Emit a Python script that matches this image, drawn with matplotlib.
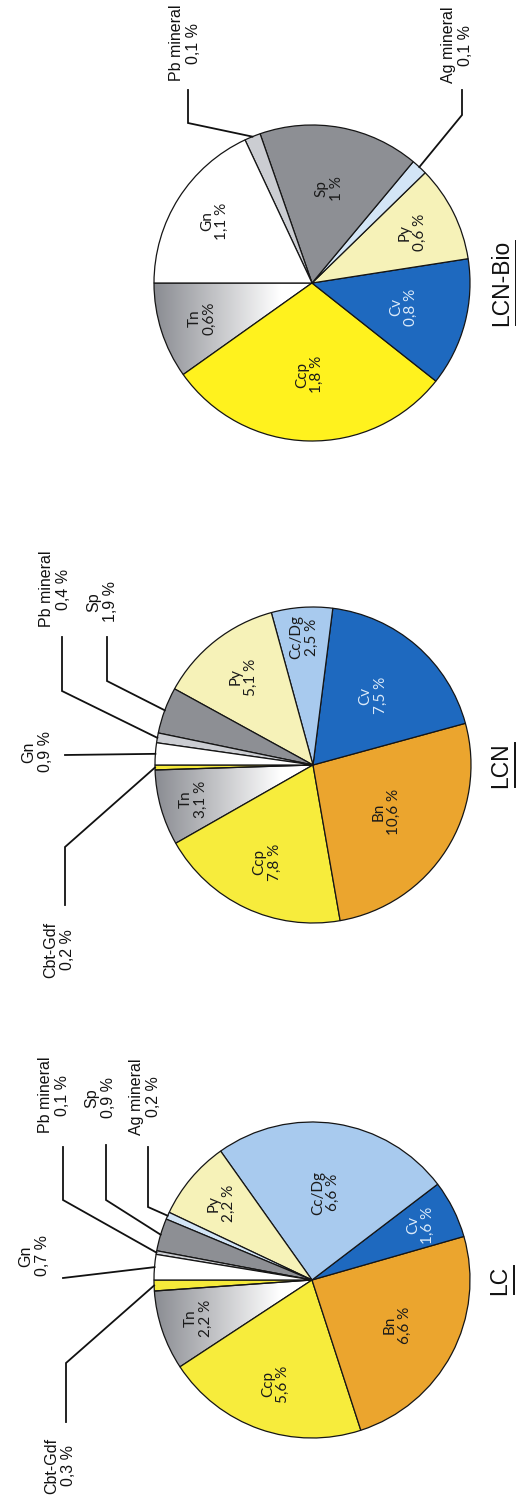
import numpy as np
import matplotlib
matplotlib.use("Agg")
import matplotlib.pyplot as plt
from matplotlib.colors import LinearSegmentedColormap

W, H = 516, 1497
R = 158

# --- data (wedges go counter-clockwise from 9 o'clock) ---
lc_minerals = ["Cbt-Gdf", "Tn", "Ccp", "Bn", "Cv", "Cc/Dg", "Py", "Ag mineral", "Sp", "Pb mineral", "Gn"]
lc_values = [0.3, 2.2, 5.6, 6.6, 1.6, 6.6, 2.2, 0.2, 0.9, 0.1, 0.7]
lc_labels = ["0,3 %", "2,2 %", "5,6 %", "6,6 %", "1,6 %", "6,6 %", "2,2 %", "0,2 %", "0,9 %", "0,1 %", "0,7 %"]

lcn_minerals = ["Cbt-Gdf", "Tn", "Ccp", "Bn", "Cv", "Cc/Dg", "Py", "Sp", "Pb mineral", "Gn"]
lcn_values = [0.2, 3.1, 7.8, 10.6, 7.5, 2.5, 5.1, 1.9, 0.4, 0.9]
lcn_labels = ["0,2 %", "3,1 %", "7,8 %", "10,6 %", "7,5 %", "2,5 %", "5,1 %", "1,9 %", "0,4 %", "0,9 %"]

bio_minerals = ["Tn", "Ccp", "Cv", "Py", "Ag mineral", "Sp", "Pb mineral", "Gn"]
bio_values = [0.6, 1.8, 0.8, 0.6, 0.1, 1.0, 0.1, 1.1]
bio_labels = ["0,6%", "1,8 %", "0,8 %", "0,6 %", "0,1 %", "1 %", "0,1 %", "1,1 %"]

colours = {"Cbt-Gdf": "#F5EA3A", "Tn": "#8C8E94", "Ccp": "#F7EC3C", "Bn": "#EBA52E",
           "Cv": "#1E69BF", "Cc/Dg": "#A8CAEE", "Py": "#F6F2B8", "Ag mineral": "#D3E5F6",
           "Sp": "#8D8F94", "Pb mineral": "#CBCDD2", "Gn": "#FFFFFF"}

tn_cmap = LinearSegmentedColormap.from_list("tn", [(0, "#8A8C92"), (0.8, "#FFFFFF"), (1, "#FFFFFF")])

# label layout (pixel coords, y from top)
lc_inner = {"Tn": 0.76, "Ccp": 0.7, "Bn": 0.61, "Cv": 0.77, "Cc/Dg": 0.56, "Py": 0.75}
lc_outer = {"Cbt-Gdf": ((66, 1363), (66, 1422), (60, 1466)),
            "Gn": (None, (63, 1278), (34, 1256)),
            "Pb mineral": ((63, 1200), (63, 1147), (54, 1095)),
            "Sp": ((106, 1200), (106, 1145), (100, 1098)),
            "Ag mineral": ((148, 1207), (148, 1147), (145, 1097))}

lcn_inner = {"Tn": 0.79, "Ccp": 0.68, "Bn": 0.55, "Cv": 0.58, "Cc/Dg": 0.81, "Py": 0.71}
lcn_outer = {"Cbt-Gdf": ((65, 847), (65, 905), (59, 950)),
             "Gn": (None, (65, 755), (37, 752)),
             "Pb mineral": ((62, 691), (62, 637), (55, 589)),
             "Sp": ((107, 681), (107, 637), (102, 602))}

bio_inner = {"Tn": 0.73, "Ccp": 0.58, "Cv": 0.6, "Py": 0.71, "Sp": 0.61, "Gn": 0.73}
bio_outer = {"Pb mineral": ((188, 123), (188, 90), (185, 43)),
             "Ag mineral": ((462, 115), (462, 90), (457, 45))}

fig = plt.figure(figsize=(W / 100, H / 100), dpi=100)
ax = fig.add_axes([0, 0, 1, 1])

inner_font = dict(family=["Lato", "DejaVu Sans"], fontsize=11)
outer_font = dict(family=["Liberation Sans", "DejaVu Sans"], fontsize=11.5)


def draw_pie(minerals, values, labels, centre, inner, outer, title, title_x, ccp="#F7EC3C"):
    cx, cy = centre[0], H - centre[1]
    cols = [ccp if m == "Ccp" else colours[m] for m in minerals]
    wedges, _ = ax.pie(values, colors=cols, startangle=180, counterclock=True,
                       center=(cx, cy), radius=R,
                       wedgeprops=dict(edgecolor="#151515", linewidth=0.9))
    for w, m, lab in zip(wedges, minerals, labels):
        mid = np.deg2rad((w.theta1 + w.theta2) / 2)
        if m == "Tn":
            w.set_facecolor("none")
            grad = np.linspace(0, 1, 256).reshape(1, -1)
            im = ax.imshow(grad, extent=[cx - R, cx, cy - R, cy + R], cmap=tn_cmap,
                           aspect="auto", zorder=0.5)
            im.set_clip_path(w)
        if m in inner:
            f = inner[m]
            ax.text(cx + f * R * np.cos(mid), cy + f * R * np.sin(mid), m + "\n" + lab,
                    rotation=90, ha="center", va="center", multialignment="center",
                    color="#DCEBFA" if m == "Cv" else "#1a1a1a", linespacing=1.1, **inner_font)
        if m in outer:
            elbow, end, tpos = outer[m]
            pts = [(cx + R * np.cos(mid), cy + R * np.sin(mid))]
            if elbow is not None:
                pts.append((elbow[0], H - elbow[1]))
            pts.append((end[0], H - end[1]))
            xs, ys = zip(*pts)
            ax.plot(xs, ys, color="#111111", lw=1.3, solid_joinstyle="miter")
            ax.text(tpos[0], H - tpos[1], m + "\n" + lab, rotation=90, ha="center",
                    va="center", multialignment="center", color="#111111",
                    linespacing=1.2, **outer_font)
    t = ax.text(title_x, cy, title, rotation=90, ha="center", va="center",
                family=["Liberation Sans", "DejaVu Sans"], fontsize=16.5, color="#111111")
    return t


titles = [draw_pie(lc_minerals, lc_values, lc_labels, (312, 1280), lc_inner, lc_outer, "LC", 500),
          draw_pie(lcn_minerals, lcn_values, lcn_labels, (313, 765), lcn_inner, lcn_outer, "LCN", 501),
          draw_pie(bio_minerals, bio_values, bio_labels, (312, 283), bio_inner, bio_outer, "LCN-Bio", 502,
                   ccp="#FFF21E")]

ax.set_xlim(0, W)
ax.set_ylim(0, H)
ax.set_aspect("auto")
ax.axis("off")

# underline the sample names
fig.canvas.draw()
for t in titles:
    bb = t.get_window_extent()
    ax.plot([bb.x1 + 2, bb.x1 + 2], [bb.y0 + 1, bb.y1 - 1], color="#111111", lw=1.4)

ax.set_xlim(0, W)
ax.set_ylim(0, H)
fig.savefig("out.png", dpi=100, facecolor="white")
